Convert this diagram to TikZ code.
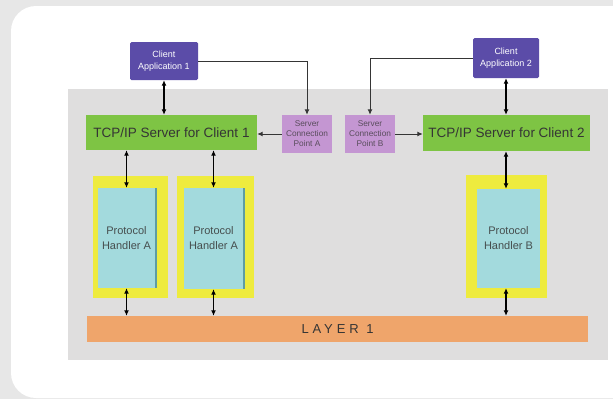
\documentclass[tikz,border=0pt]{standalone}
\usepackage{fontspec}
\setmainfont{Liberation Sans}
\usetikzlibrary{arrows.meta,shadows}
\definecolor{outerbg}{HTML}{E7E7E7}
\definecolor{boardgray}{HTML}{DFDEDE}
\definecolor{clientblue}{HTML}{5B4CA8}
\definecolor{servergreen}{HTML}{7EC444}
\definecolor{pointpurple}{HTML}{C496D2}
\definecolor{frameyellow}{HTML}{EEEB3E}
\definecolor{handlercyan}{HTML}{A3DADD}
\definecolor{handleredge}{HTML}{5E9CA3}
\definecolor{layerorange}{HTML}{EFA56B}
\definecolor{textgray}{HTML}{353535}
\tikzset{
  client/.style={fill=clientblue, text=white, align=center, inner sep=0pt,
    rounded corners=1.5pt, font=\fontsize{9}{12}\selectfont},
  server/.style={fill=servergreen, text=textgray, inner sep=0pt,
    font=\fontsize{13.5}{15}\selectfont},
  point/.style={fill=pointpurple, text=textgray!75!pointpurple, align=center,
    inner sep=0pt, font=\fontsize{8.3}{10}\selectfont},
  frame/.style={fill=frameyellow, inner sep=0pt},
  handler/.style={fill=handlercyan, text=textgray!85!handlercyan, align=center,
    inner sep=0pt, font=\fontsize{11}{15}\selectfont},
  edged/.style={drop shadow={shadow xshift=2pt, shadow yshift=0pt,
    fill=handleredge, opacity=1}},
  layer/.style={fill=layerorange, text=textgray, inner sep=0pt,
    font=\fontsize{13}{15}\selectfont\addfontfeature{LetterSpace=30}},
  link/.style={draw=textgray, line width=1pt, -{Latex[length=5.5pt,width=5pt]}},
  dbl/.style={draw=black, line width=1.3pt,
    {Latex[length=5.5pt,width=5pt]}-{Latex[length=5.5pt,width=5pt]}}
}
\begin{document}
\begin{tikzpicture}[x=1pt,y=-1pt]
\clip (0,0) rectangle (613,399);
\fill[outerbg] (0,0) rectangle (613,399);
\fill[white, rounded corners=25pt] (11,6) rectangle (660,398);
\fill[boardgray] (68,89) rectangle (608,360);

\node[client, minimum width=68pt, minimum height=38pt] (client1) at (164,61) {Client\\Application 1};
\node[client, minimum width=66pt, minimum height=40pt] (client2) at (506,58) {Client\\Application 2};
\node[server, minimum width=171pt, minimum height=35pt] (srv1) at (171.5,132.5) {TCP/IP Server for Client 1};
\node[server, minimum width=167pt, minimum height=36pt] (srv2) at (506.5,133) {TCP/IP Server for Client 2};
\node[point, minimum width=50pt, minimum height=38pt] (cpA) at (307,134) {Server\\Connection\\Point A};
\node[point, minimum width=50pt, minimum height=38pt] (cpB) at (370,134) {Server\\Connection\\Point B};

\node[frame, minimum width=75pt, minimum height=122pt] (yA1) at (130.5,237) {};
\node[frame, minimum width=77pt, minimum height=122pt] (yA2) at (215.5,237) {};
\node[frame, minimum width=81pt, minimum height=123pt] (yB) at (506.5,236.5) {};
\node[handler, edged, minimum width=57pt, minimum height=100pt] (hA1) at (126.5,238) {Protocol\\Handler A};
\node[handler, edged, minimum width=59pt, minimum height=101pt] (hA2) at (213.5,238.5) {Protocol\\Handler A};
\node[handler, minimum width=63pt, minimum height=99pt] (hB) at (508.5,238.5) {Protocol\\Handler B};
\node[layer, minimum width=501pt, minimum height=26pt] (layer) at (337.5,329) {LAYER 1};

\draw[link] (client1.east) -| (cpA.north);
\draw[link] (client2.west) -| (cpB.north);
\draw[link] (cpA.west) -- (cpA.west -| srv1.east);
\draw[link] (cpB.east) -- (cpB.east -| srv2.west);
\draw[dbl] (client1.south) -- (client1.south |- srv1.north);
\draw[dbl] (client2.south) -- (client2.south |- srv2.north);
\draw[dbl] (hA1.north |- srv1.south) -- (hA1.north);
\draw[dbl] (hA2.north |- srv1.south) -- (hA2.north);
\draw[dbl] (hB.north -| client2.south) coordinate (bTop) -- (bTop |- srv2.south);
\draw[dbl] (hA1.south) -- (hA1.south |- layer.north);
\draw[dbl] (hA2.south) -- (hA2.south |- layer.north);
\draw[dbl] (hB.south -| client2.south) coordinate (bBot) -- (bBot |- layer.north);
\end{tikzpicture}
\end{document}
